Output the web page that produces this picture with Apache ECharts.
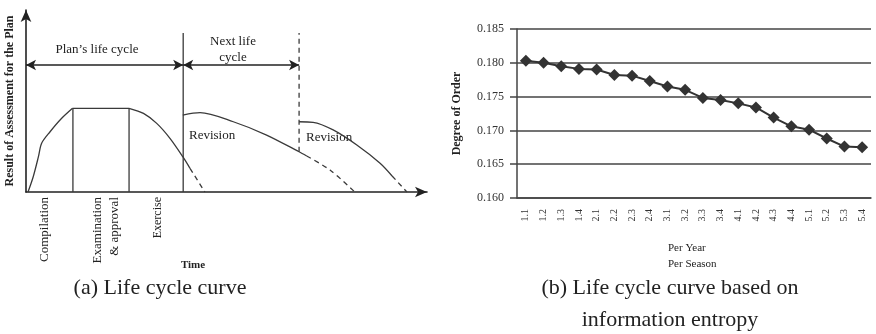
<!DOCTYPE html>
<html>
<head>
<meta charset="utf-8">
<script src="https://cdn.jsdelivr.net/npm/echarts@6/dist/echarts.min.js"></script>
<style>
  html, body { margin: 0; padding: 0; background: #fff; }
  #main { width: 876px; height: 334px; }
</style>
</head>
<body>
<div id="main"></div>
<script>
// (a) 生命周期示意曲线, x: 时间 (0-100), y: 评估结果 (0-100)
var rise1 = [[0.5, 0], [1.8, 8.4], [3.1, 19.4], [3.9, 26.8], [6.0, 33.1], [8.9, 40.5], [11.6, 46]];
var plateau1 = [[11.6, 46], [25.7, 46]];
var fall1 = [[25.7, 46], [29.3, 43.2], [32.6, 37.7], [35.9, 29.5], [39.1, 19.4], [40.9, 13.0]];
var fall1Dash = [[40.9, 13.0], [44.6, 0]];
var curve2 = [[39.1, 42.3], [43.4, 43.6], [51.7, 38.6], [60.0, 31.3], [68.1, 22.1], [70.0, 19.8]];
var curve2Dash = [[70.0, 19.8], [75.8, 12.1], [82.0, 0]];
var curve3 = [[68.1, 38.6], [71.6, 38.3], [76.6, 34.1], [82.5, 25.8], [88.3, 15.8], [91.3, 8.8]];
var curve3Dash = [[91.3, 8.8], [95.0, 0]];
var stageLines = [[[11.7, 0], [11.7, 46]], [[25.7, 0], [25.7, 46]], [[39.2, 0], [39.2, 87.4]]];
var nextCycleEnd = [[68.1, 22.1], [68.1, 87.4]];
var cycleArrows = [[0, 39.2, 69.8], [39.2, 68.1, 69.8]];

// (b) 基于信息熵的生命周期曲线
var seasons = ['1.1', '1.2', '1.3', '1.4', '2.1', '2.2', '2.3', '2.4', '3.1', '3.2',
               '3.3', '3.4', '4.1', '4.2', '4.3', '4.4', '5.1', '5.2', '5.3', '5.4'];
var orderDegree = [0.1803, 0.1800, 0.1795, 0.1791, 0.1790, 0.1782, 0.1781, 0.1773, 0.1765, 0.1760,
                   0.1748, 0.1745, 0.1740, 0.1734, 0.1719, 0.1706, 0.1701, 0.1688, 0.1676, 0.1675];

var serif = '"Liberation Serif", "DejaVu Serif", serif';
var ink = '#3a3a3a';

function curve(data, dashed, smooth) {
    return {
        type: 'line', xAxisIndex: 0, yAxisIndex: 0, data: data,
        showSymbol: false, smooth: smooth || false, silent: true,
        lineStyle: { color: ink, width: 1.3, type: dashed ? [5, 4] : 'solid' }
    };
}

var leftSeries = [
    curve(rise1, false, 0.3),
    curve(plateau1, false),
    curve(fall1, false, 0.3),
    curve(fall1Dash, true),
    curve(curve2, false, 0.3),
    curve(curve2Dash, true, 0.3),
    curve(curve3, false, 0.3),
    curve(curve3Dash, true)
];
stageLines.forEach(function (d) { leftSeries.push(curve(d, false)); });
leftSeries.push(curve(nextCycleEnd, true));
// 双向箭头
leftSeries.push({
    type: 'line', xAxisIndex: 0, yAxisIndex: 0, data: [], silent: true,
    markLine: {
        silent: true,
        symbol: ['arrow', 'arrow'],
        symbolSize: [8, 10],
        label: { show: false },
        lineStyle: { color: '#222', width: 1.6, type: 'solid' },
        data: cycleArrows.map(function (a) {
            return [{ coord: [a[0], a[2]] }, { coord: [a[1], a[2]] }];
        })
    }
});

var myChart = echarts.init(document.getElementById('main'));
var option = {
    backgroundColor: '#fff',
    animation: false,
    grid: [
        { left: 26, top: 10, width: 401, height: 182 },
        { left: 517, top: 29, width: 354, height: 169 }
    ],
    xAxis: [{
        gridIndex: 0, type: 'value', min: 0, max: 100,
        axisLine: { show: true, symbol: ['none', 'arrow'], symbolSize: [8, 12], lineStyle: { color: '#222', width: 1.6 } },
        axisTick: { show: false }, axisLabel: { show: false }, splitLine: { show: false }
    }, {
        gridIndex: 1, type: 'category', data: seasons, boundaryGap: true,
        axisLine: { show: true, lineStyle: { color: '#444', width: 1.5 } },
        axisTick: { show: false },
        axisLabel: { rotate: 90, fontSize: 10, margin: 11, color: '#333', fontFamily: serif }
    }],
    yAxis: [{
        gridIndex: 0, type: 'value', min: 0, max: 100,
        name: 'Result of Assessment for the Plan', nameLocation: 'middle', nameGap: 10,
        nameTextStyle: { fontFamily: serif, fontSize: 12, fontWeight: 'bold', color: '#222' },
        axisLine: { show: true, symbol: ['none', 'arrow'], symbolSize: [8, 12], lineStyle: { color: '#222', width: 1.6 } },
        axisTick: { show: false }, axisLabel: { show: false }, splitLine: { show: false }
    }, {
        gridIndex: 1, type: 'value', min: 0.16, max: 0.185, interval: 0.005,
        name: 'Degree of Order', nameLocation: 'middle', nameGap: 54,
        nameTextStyle: { fontFamily: serif, fontSize: 12, fontWeight: 'bold', color: '#222' },
        axisLine: { show: true, lineStyle: { color: '#444', width: 1.5 } },
        axisTick: { show: true, length: 7, lineStyle: { color: '#444', width: 1.5 } },
        axisLabel: { fontSize: 12, margin: 13, color: '#333', fontFamily: serif,
                     formatter: function (v) { return v.toFixed(3); } },
        splitLine: { show: true, lineStyle: { color: '#444', width: 1.5 } }
    }],
    series: leftSeries.concat([{
        type: 'line', xAxisIndex: 1, yAxisIndex: 1, data: orderDegree,
        symbol: 'diamond', symbolSize: 12,
        itemStyle: { color: '#333' },
        lineStyle: { color: '#333', width: 2 }
    }]),
    graphic: [
        { type: 'text', x: 97, y: 50, style: { text: 'Plan’s life cycle', font: '13px ' + serif, fill: '#222', align: 'center', verticalAlign: 'middle' } },
        { type: 'text', x: 233, y: 50, style: { text: 'Next life\ncycle', font: '13px ' + serif, lineHeight: 16, fill: '#222', align: 'center', verticalAlign: 'middle' } },
        { type: 'text', x: 189, y: 136, style: { text: 'Revision', font: '13px ' + serif, fill: '#222', align: 'left', verticalAlign: 'middle' } },
        { type: 'text', x: 306, y: 138, style: { text: 'Revision', font: '13px ' + serif, fill: '#222', align: 'left', verticalAlign: 'middle' } },
        { type: 'text', x: 45, y: 197, rotation: Math.PI / 2, style: { text: 'Compilation', font: '13px ' + serif, fill: '#222', align: 'right', verticalAlign: 'middle' } },
        { type: 'text', x: 98, y: 197, rotation: Math.PI / 2, style: { text: 'Examination', font: '13px ' + serif, fill: '#222', align: 'right', verticalAlign: 'middle' } },
        { type: 'text', x: 115, y: 197, rotation: Math.PI / 2, style: { text: '& approval', font: '13px ' + serif, fill: '#222', align: 'right', verticalAlign: 'middle' } },
        { type: 'text', x: 158, y: 197, rotation: Math.PI / 2, style: { text: 'Exercise', font: '12px ' + serif, fill: '#222', align: 'right', verticalAlign: 'middle' } },
        { type: 'text', x: 193, y: 265, style: { text: 'Time', font: 'bold 11px ' + serif, fill: '#222', align: 'center', verticalAlign: 'middle' } },
        { type: 'text', x: 160, y: 288, style: { text: '(a) Life cycle curve', font: '22px ' + serif, fill: '#222', align: 'center', verticalAlign: 'middle' } },
        { type: 'text', x: 668, y: 256, style: { text: 'Per Year\nPer Season', font: '11px ' + serif, lineHeight: 16, fill: '#222', align: 'left', verticalAlign: 'middle' } },
        { type: 'text', x: 670, y: 288, style: { text: '(b) Life cycle curve based on', font: '22px ' + serif, fill: '#222', align: 'center', verticalAlign: 'middle' } },
        { type: 'text', x: 670, y: 320, style: { text: 'information entropy', font: '22px ' + serif, fill: '#222', align: 'center', verticalAlign: 'middle' } }
    ]
};
myChart.setOption(option);
</script>
</body>
</html>
